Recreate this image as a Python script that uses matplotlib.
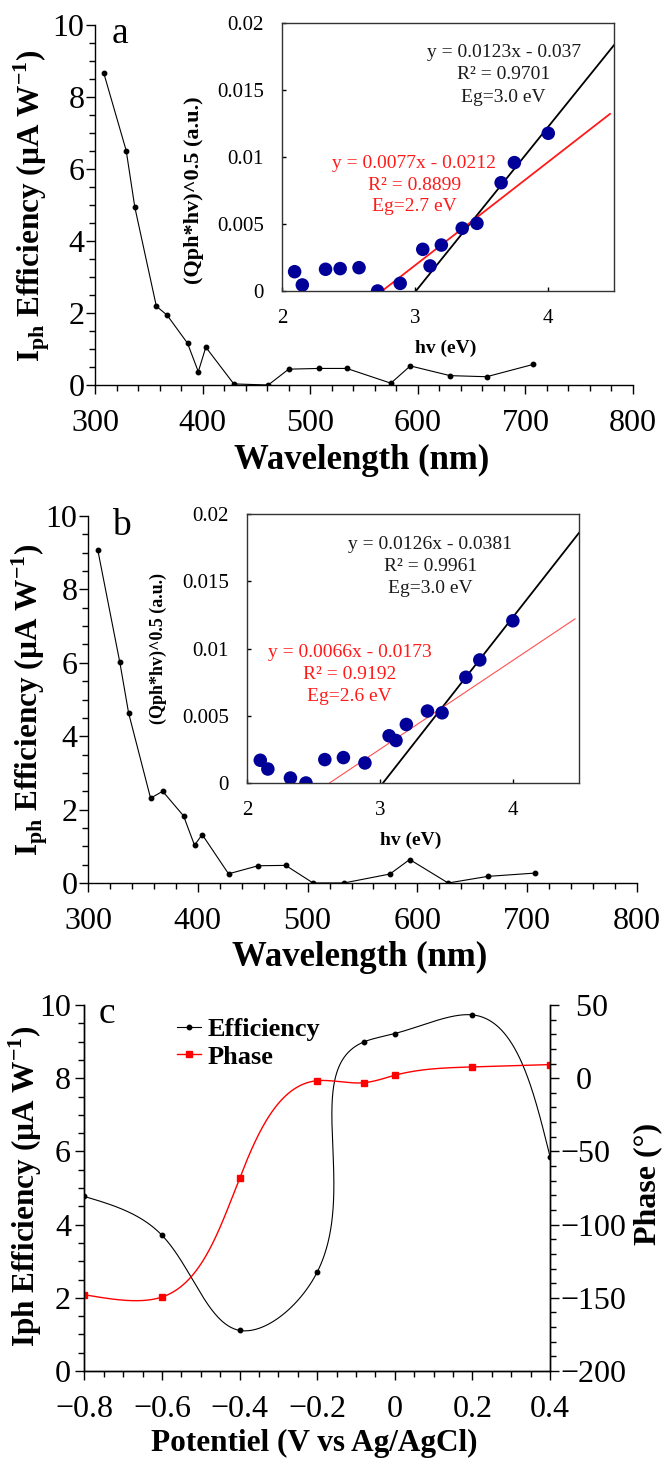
import numpy as np
import matplotlib
matplotlib.use("Agg")
import matplotlib.pyplot as plt
from matplotlib.ticker import MultipleLocator, FuncFormatter
from matplotlib.lines import Line2D

plt.rcParams['font.family'] = ['Liberation Serif', 'DejaVu Serif']
plt.rcParams['mathtext.fontset'] = 'custom'
plt.rcParams['mathtext.rm'] = 'Liberation Serif'
plt.rcParams['mathtext.bf'] = 'Liberation Serif:bold'
plt.rcParams['axes.linewidth'] = 1.0

# ---- data -------------------------------------------------------------
# (a) photocurrent spectrum
wl_a = [308, 329, 337, 357, 367, 386, 396, 403, 429, 461, 480, 508, 534, 575, 593, 630, 664, 707]
eff_a = [8.68, 6.51, 4.94, 2.19, 1.94, 1.16, 0.37, 1.05, 0.03, 0.0, 0.44, 0.46, 0.46, 0.05, 0.53, 0.26, 0.23, 0.57]
# (a) Tauc-type plot
hv_a = [2.095, 2.153, 2.328, 2.438, 2.58, 2.72, 2.89, 3.06, 3.115, 3.2, 3.357, 3.468, 3.65, 3.75, 4.005]
q_a = [0.00144, 0.00045, 0.00162, 0.00167, 0.00174, 0.0, 0.00057, 0.00311, 0.00187, 0.00343,
       0.00468, 0.00505, 0.00808, 0.00958, 0.01177]
fit_a_black = (0.0123, -0.037)
fit_a_red = (0.0077, -0.0212)

# (b) photocurrent spectrum
wl_b = [309, 329, 337, 357, 368, 387, 397, 404, 428, 455, 480, 505, 533, 575, 593, 628, 664, 707]
eff_b = [9.06, 6.01, 4.63, 2.31, 2.50, 1.83, 1.03, 1.32, 0.25, 0.47, 0.48, 0.0, 0.0, 0.245, 0.64, 0.0, 0.18, 0.27]
hv_b = [2.10, 2.157, 2.327, 2.444, 2.586, 2.726, 2.888, 3.07, 3.122, 3.20, 3.359, 3.469, 3.648, 3.753, 4.002]
q_b = [0.00169, 0.00104, 0.00037, 0.0, 0.00174, 0.00189, 0.00149, 0.00351, 0.00316, 0.00435,
       0.00535, 0.00522, 0.00786, 0.00915, 0.01206]
fit_b_black = (0.0126, -0.0381)
fit_b_red = (0.0066, -0.0173)

# (c) potential dependence
pot = [-0.8, -0.6, -0.4, -0.2, -0.08, 0.0, 0.2, 0.4]
eff_c = [4.77, 3.71, 1.11, 2.70, 8.99, 9.22, 9.73, 5.86]
phase_c = [-147.9, -149.5, -68.5, -1.7, -3.1, 2.0, 7.7, 9.3]

W, H = 662, 1458
DOT = '#000099'


def rect(l, t, r, b):
    return [l / W, 1 - b / H, (r - l) / W, (b - t) / H]


def fpos(x, y):
    return x / W, 1 - y / H


def natural_spline(t, y, tt):
    t = np.asarray(t, float); y = np.asarray(y, float)
    n = len(t); h = np.diff(t)
    A = np.zeros((n, n)); r = np.zeros(n)
    A[0, 0] = A[-1, -1] = 1
    for i in range(1, n - 1):
        A[i, i - 1] = h[i - 1]; A[i, i] = 2 * (h[i - 1] + h[i]); A[i, i + 1] = h[i]
        r[i] = 6 * ((y[i + 1] - y[i]) / h[i] - (y[i] - y[i - 1]) / h[i - 1])
    M = np.linalg.solve(A, r)
    k = np.clip(np.searchsorted(t, tt) - 1, 0, n - 2)
    hk = h[k]; a = (t[k + 1] - tt) / hk; b = (tt - t[k]) / hk
    return (a * y[k] + b * y[k + 1] + ((a ** 3 - a) * M[k] + (b ** 3 - b) * M[k + 1]) * hk ** 2 / 6)


def smooth(xs, ys, sx, sy, n=600):
    # parametric spline in screen-like units
    px = np.asarray(xs) * sx; py = np.asarray(ys) * sy
    t = np.concatenate([[0], np.cumsum(np.hypot(np.diff(px), np.diff(py)))])
    tt = np.linspace(0, t[-1], n)
    return natural_spline(t, xs, tt), natural_spline(t, ys, tt)


def spectrum(ax, wl, eff, letter, lpos):
    ax.plot(wl, eff, '-', color='black', lw=0.8, marker='o', ms=3.2)
    ax.set_xlim(300, 800); ax.set_ylim(0, 10)
    ax.spines['top'].set_visible(False); ax.spines['right'].set_visible(False)
    ax.xaxis.set_major_locator(MultipleLocator(100)); ax.xaxis.set_minor_locator(MultipleLocator(20))
    ax.yaxis.set_major_locator(MultipleLocator(2)); ax.yaxis.set_minor_locator(MultipleLocator(0.5))
    ax.tick_params(which='major', direction='out', length=6.5, width=1, labelsize=23)
    ax.tick_params(which='minor', direction='out', length=4.5, width=1)
    ax.tick_params(axis='x', which='major', pad=11)
    ax.tick_params(axis='y', which='major', pad=1)
    fig.text(*fpos(*lpos), letter, fontsize=27, ha='left', va='baseline')


def tauc(ax, hv, q, black, red, red_lw, red_col, btxt, bxy, rtxt, rxy):
    ax.scatter(hv, q, s=95, color=DOT, zorder=3, edgecolors='none')
    x0 = -black[1] / black[0]
    xb = np.array([x0, 4.5])
    ax.plot(xb, black[0] * xb + black[1], color='black', lw=1.3, zorder=2)
    x1 = -red[1] / red[0]
    xr = np.array([x1, 4.47])
    ax.plot(xr, red[0] * xr + red[1], color=red_col, lw=red_lw, zorder=2)
    ax.set_xlim(2, 4.5); ax.set_ylim(0, 0.02)
    ax.set_xticks([2, 3, 4]); ax.set_yticks([0, 0.005, 0.01, 0.015, 0.02])
    ax.yaxis.set_major_formatter(FuncFormatter(lambda v, p: '%g' % round(v, 4)))
    ax.tick_params(direction='in', length=3, width=1, labelsize=15, pad=13,
                   top=False, right=False)
    for s in ax.spines.values():
        s.set_color('#333333'); s.set_linewidth(1.0)
    for i, t in enumerate(btxt):
        ax.text(bxy[0], bxy[1][i], t, color='#1a1a1a', fontsize=14, ha='center', va='center')
    for i, t in enumerate(rtxt):
        ax.text(rxy[0], rxy[1][i], t, color='#ff1a1a', fontsize=14, ha='center', va='center')


fig = plt.figure(figsize=(W / 100, H / 100), dpi=100)

ylab = r'$\mathbf{I_{ph}}$ Efficiency (µA W$^{\mathbf{-1}}$)'

# ---- panel a ----
ax_a = fig.add_axes(rect(95, 25, 633, 385))
spectrum(ax_a, wl_a, eff_a, 'a', (112, 43))
fig.text(*fpos(362, 460), 'Wavelength (nm)', fontsize=25, fontweight='bold', ha='center', va='center')
fig.text(*fpos(32, 206), ylab, fontsize=22.5, fontweight='bold', rotation=90, ha='center', va='center')

ins_a = fig.add_axes(rect(282, 23, 614, 291))
tauc(ins_a, hv_a, q_a, fit_a_black, fit_a_red, 1.3, '#ff1a1a',
     ['y = 0.0123x - 0.037', 'R² = 0.9701', 'Eg=3.0 eV'], (3.67, [0.01779, 0.01612, 0.01445]),
     ['y = 0.0077x - 0.0212', 'R² = 0.8899', 'Eg=2.7 eV'], (2.995, [0.00953, 0.00791, 0.00629]))
fig.text(*fpos(194, 190), '(Qph*hv)^0.5 (a.u.)', fontsize=16, fontweight='bold', rotation=90,
         ha='center', va='center')
fig.text(*fpos(446, 348), 'hv (eV)', fontsize=14, fontweight='bold', ha='center', va='center')

# ---- panel b ----
ax_b = fig.add_axes(rect(88, 516, 637, 883))
spectrum(ax_b, wl_b, eff_b, 'b', (112, 535))
fig.text(*fpos(360, 957), 'Wavelength (nm)', fontsize=25, fontweight='bold', ha='center', va='center')
fig.text(*fpos(30, 700), ylab, fontsize=22.5, fontweight='bold', rotation=90, ha='center', va='center')

ins_b = fig.add_axes(rect(247, 514, 579, 783))
tauc(ins_b, hv_b, q_b, fit_b_black, fit_b_red, 0.8, '#ff5050',
     ['y = 0.0126x - 0.0381', 'R² = 0.9961', 'Eg=3.0 eV'], (3.379, [0.01774, 0.01607, 0.01443]),
     ['y = 0.0066x - 0.0173', 'R² = 0.9192', 'Eg=2.6 eV'], (2.773, [0.00973, 0.00808, 0.00642]))
fig.text(*fpos(158, 649), '(Qph*hv)^0.5 (a.u.)', fontsize=13, fontweight='bold', rotation=90,
         ha='center', va='center')
fig.text(*fpos(411, 840), 'hv (eV)', fontsize=14, fontweight='bold', ha='center', va='center')

# ---- panel c ----
ax_c = fig.add_axes(rect(84.3, 1005, 550, 1371))
ax_p = ax_c.twinx()
sx, sy_l, sy_r = 466 / 1.2, 366 / 10.0, 366 / 250.0
cx, cy = smooth(pot, eff_c, sx, sy_l)
ax_c.plot(cx, cy, color='black', lw=0.8)
ax_c.plot(pot, eff_c, 'o', color='black', ms=3.2)
px_, py_ = smooth(pot, phase_c, sx, sy_r)
ax_p.plot(px_, py_, color='red', lw=1.0)
ax_p.plot(pot, phase_c, 's', color='red', ms=4.5)

ax_c.set_xlim(-0.8, 0.4); ax_c.set_ylim(0, 10)
ax_p.set_ylim(-200, 50)
ax_c.spines['top'].set_visible(False); ax_p.spines['top'].set_visible(False)
ax_c.xaxis.set_major_locator(MultipleLocator(0.2)); ax_c.xaxis.set_minor_locator(MultipleLocator(0.05))
ax_c.yaxis.set_major_locator(MultipleLocator(2)); ax_c.yaxis.set_minor_locator(MultipleLocator(0.5))
ax_p.yaxis.set_major_locator(MultipleLocator(50)); ax_p.yaxis.set_minor_locator(MultipleLocator(10))
ax_c.xaxis.set_major_formatter(FuncFormatter(
    lambda v, p: '0' if abs(v) < 1e-9 else ('%.1f' % v).replace('-', '\u2212')))
ax_p.yaxis.set_major_formatter(FuncFormatter(
    lambda v, p: ('\u2212%d' % -v) if v < 0 else '  %d' % v))
for a in (ax_c, ax_p):
    a.tick_params(which='major', direction='out', length=6.5, width=1, labelsize=23)
    a.tick_params(which='minor', direction='out', length=4.5, width=1)
ax_c.tick_params(axis='x', which='major', pad=11)
ax_c.tick_params(axis='y', which='major', pad=3)
ax_p.tick_params(axis='y', which='major', pad=1)

fig.text(*fpos(99, 1023), 'c', fontsize=27, ha='left', va='baseline')
fig.text(*fpos(314, 1443), 'Potentiel (V vs Ag/AgCl)', fontsize=22.5, fontweight='bold',
         ha='center', va='center')
fig.text(*fpos(25, 1186), 'Iph Efficiency (µA W$^{\\mathbf{-1}}$)', fontsize=22.5, fontweight='bold',
         rotation=90, ha='center', va='center')
fig.text(*fpos(648, 1184), 'Phase (°)', fontsize=23, fontweight='bold', rotation=90,
         ha='center', va='center')

handles = [Line2D([], [], color='black', lw=0.8, marker='o', ms=3.2),
           Line2D([], [], color='red', lw=1.0, marker='s', ms=4.5)]
ax_p.legend(handles, ['Efficiency', 'Phase'], loc='upper left', bbox_to_anchor=(0.199, 0.965),
            frameon=False, borderpad=0, borderaxespad=0, handlelength=0.9, handletextpad=0.25,
            labelspacing=0.15, prop={'size': 19, 'weight': 'bold'})

fig.savefig('out.png', dpi=100)
